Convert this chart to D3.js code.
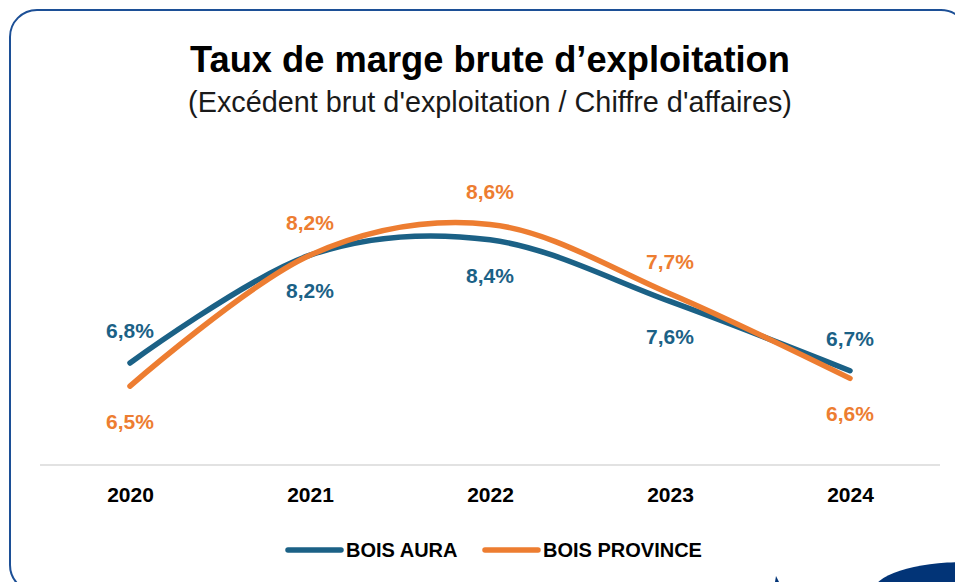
<!DOCTYPE html>
<html>
<head>
<meta charset="utf-8">
<script src="https://cdn.jsdelivr.net/npm/d3@7"></script>
<style>
  html, body { margin: 0; padding: 0; background: #ffffff; }
  svg { display: block; }
  text { font-family: "Liberation Sans", Arial, sans-serif; }
</style>
</head>
<body>
<svg id="chart" width="955" height="582"></svg>
<script>
const years = ["2020", "2021", "2022", "2023", "2024"];
const boisAura = [6.8, 8.2, 8.4, 7.6, 6.7];
const boisProvince = [6.5, 8.2, 8.6, 7.7, 6.6];
const seriesNames = ["BOIS AURA", "BOIS PROVINCE"];
const auraLabelSide = ["above", "below", "below", "below", "above"];
const provinceLabelSide = ["below", "above", "above", "above", "below"];
const titleText = "Taux de marge brute d\u2019exploitation";
const subtitleText = "(Exc\u00e9dent brut d'exploitation / Chiffre d'affaires)";

const W = 955, H = 582;
const colors = ["#1b6186", "#ed7d31"];
const svg = d3.select("#chart");

// Frame
svg.append("rect")
  .attr("x", 10).attr("y", 10)
  .attr("width", 958).attr("height", 582)
  .attr("rx", 27).attr("ry", 27)
  .attr("fill", "#ffffff")
  .attr("stroke", "#1c4f96")
  .attr("stroke-width", 2);

// decorative navy shapes bottom-right
svg.append("ellipse")
  .attr("cx", 965).attr("cy", 592)
  .attr("rx", 92).attr("ry", 30)
  .attr("fill", "#023477");
svg.append("path")
  .attr("d", "M776,576 L779,582 L775,582 Z")
  .attr("fill", "#023477");

// Title
const title = svg.append("text")
  .attr("x", 490).attr("y", 72)
  .attr("text-anchor", "middle")
  .attr("font-weight", "bold")
  .attr("font-size", 35)
  .attr("fill", "#000")
  .text(titleText);
const tl = title.node().getComputedTextLength();
if (tl > 0) title.attr("font-size", 35 * 600 / tl);

const sub = svg.append("text")
  .attr("x", 490).attr("y", 112)
  .attr("text-anchor", "middle")
  .attr("font-size", 23)
  .attr("fill", "#1a1a1a")
  .text(subtitleText);
const sl = sub.node().getComputedTextLength();
if (sl > 0) sub.attr("font-size", 23 * 604 / sl);

// Scales
const x = d3.scalePoint().domain(years).range([130, 850]);
const y = d3.scaleLinear().domain([6.8, 8.6]).range([363, 224.4]);

// Axis baseline
const axisG = svg.append("g").attr("transform", "translate(0,465)");
const xAxis = d3.axisBottom(x).tickSize(0).tickPadding(30);
axisG.call(xAxis);
axisG.select(".domain").remove();
axisG.append("line")
  .attr("x1", 40).attr("x2", 940)
  .attr("stroke", "#d9d9d9").attr("stroke-width", 1.3);
axisG.selectAll(".tick text")
  .attr("font-family", "'Liberation Sans', Arial, sans-serif")
  .attr("font-size", 21)
  .attr("font-weight", "bold")
  .attr("fill", "#000")
  .attr("dy", "0.71em")
  .attr("y", 22);

// Lines
const line = d3.line()
  .x((d, i) => x(years[i]))
  .y(d => y(d))
  .curve(d3.curveCatmullRom.alpha(0));

const allSeries = [boisAura, boisProvince];
const sides = [auraLabelSide, provinceLabelSide];

allSeries.forEach((vals, si) => {
  svg.append("path")
    .datum(vals)
    .attr("d", line)
    .attr("fill", "none")
    .attr("stroke", colors[si])
    .attr("stroke-width", 5.5)
    .attr("stroke-linecap", "round");
});

const fmt = v => d3.format(".1f")(v).replace(".", ",") + "%";
allSeries.forEach((vals, si) => {
  svg.append("g").selectAll("text")
    .data(vals)
    .join("text")
    .attr("x", (d, i) => x(years[i]))
    .attr("y", (d, i) => sides[si][i] === "above" ? y(d) - 25 : y(d) + 43)
    .attr("text-anchor", "middle")
    .attr("font-size", 21)
    .attr("font-weight", "bold")
    .attr("fill", colors[si])
    .text(d => fmt(d));
});

// Legend
const legendItems = [
  { name: seriesNames[0], color: colors[0], x0: 288 },
  { name: seriesNames[1], color: colors[1], x0: 485 }
];
const lg = svg.append("g");
legendItems.forEach(it => {
  lg.append("line")
    .attr("x1", it.x0).attr("x2", it.x0 + 53)
    .attr("y1", 550).attr("y2", 550)
    .attr("stroke", it.color).attr("stroke-width", 5.5)
    .attr("stroke-linecap", "round");
  lg.append("text")
    .attr("x", it.x0 + 58).attr("y", 557)
    .attr("font-size", 20)
    .attr("font-weight", "bold")
    .attr("fill", "#000")
    .text(it.name);
});
</script>
</body>
</html>
